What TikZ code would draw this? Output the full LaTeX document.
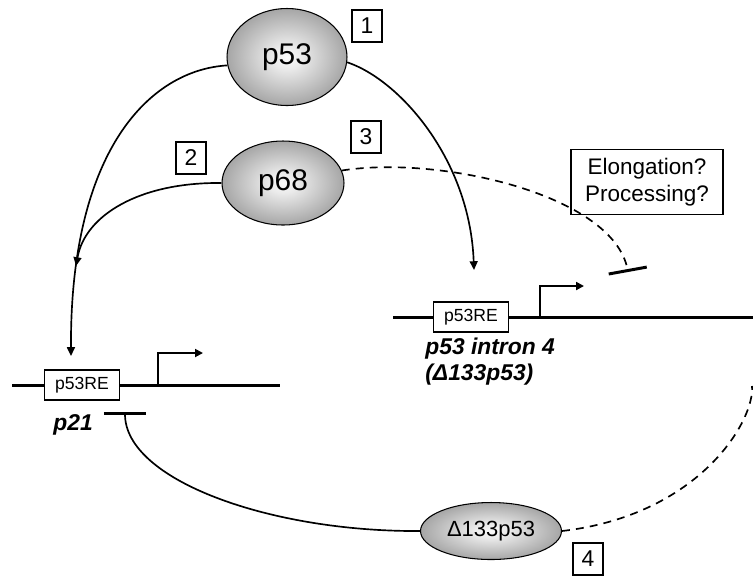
\documentclass[tikz,border=0pt]{standalone}
\usepackage{fontspec}
\setmainfont{Liberation Sans}
\usetikzlibrary{shapes,arrows,positioning,calc,arrows.meta}
\pgfdeclareradialshading{protshade}{\pgfpoint{0bp}{0bp}}{color(0bp)=(black!2); color(6bp)=(black!8); color(30bp)=(black!42); color(50bp)=(black!72)}

\begin{document}
\begin{tikzpicture}[x=0.02cm, y=-0.02cm,
    prot/.style={ellipse, draw, line width=0.6pt, shade, shading=protshade, inner sep=0pt},
    numbox/.style={draw, line width=0.8pt, minimum width=0.6cm, minimum height=0.64cm, inner sep=0pt, font=\fontsize{13}{13}\selectfont},
    rebox/.style={draw, fill=white, line width=0.8pt, minimum width=1.5cm, minimum height=0.6cm, inner sep=0pt, font=\fontsize{10}{10}\selectfont},
    gene/.style={line width=1.7pt},
    tss/.style={line width=1.1pt, -{Triangle[length=4.5pt, width=4.5pt]}},
    act/.style={line width=0.95pt, -{Triangle[length=5pt, width=4.5pt]}},
    inh/.style={line width=0.95pt, -{Bar[width=#1, line width=1.7pt]}},
    dash68/.style={line width=0.95pt, dash pattern=on 4.5pt off 3.5pt},
    genename/.style={font=\fontsize{13}{14.7}\selectfont\bfseries\itshape, align=left, inner sep=0pt}]
    \useasboundingbox (0,0) rectangle (753,576);

    % proteins
    \node [prot, minimum width=2.4cm, minimum height=1.94cm, font=\fontsize{17}{17}\selectfont] (p53) at (287,57) {p53};
    \node [prot, minimum width=2.44cm, minimum height=1.68cm, font=\fontsize{17}{17}\selectfont] (p68) at (283,183) {p68};
    \node [prot, minimum width=2.82cm, minimum height=1.14cm, font=\fontsize{12.5}{12.5}\selectfont] (dn133) at (491,531) {Δ133p53};

    \node [numbox] (n1) at (367,26) {1};
    \node [numbox] (n2) at (191,158) {2};
    \node [numbox] (n3) at (366,137) {3};
    \node [numbox] (n4) at (588,559) {4};

    \node [draw, line width=0.8pt, minimum width=3.04cm, minimum height=1.3cm, align=center, font=\fontsize{12.8}{15}\selectfont] (query) at (647,182) {Elongation?\\Processing?};

    % p21 gene
    \draw [gene] (12,385) -- (280,385);
    \node [rebox] (re21) at (82,385) {p53RE};
    \coordinate (tss21) at (158,385);
    \draw [tss] (tss21) |- ++(45,-32);
    \node [genename, anchor=base west] (p21) at (53,430) {p21};

    % p53 intron 4
    \draw [gene] (393,317) -- (753,317);
    \node [rebox] (reint) at (471,317) {p53RE};
    \coordinate (tssint) at (540,317);
    \draw [tss] (tssint) |- ++(44,-31);
    \node [genename, anchor=north west] (intron) at (425,338) {p53 intron 4\\(Δ133p53)};

    % arrows
    \coordinate (in21) at (71,356);
    \coordinate (join) at (76,266);
    \coordinate (inint) at (474,270);
    \coordinate (stop) at (628,272);
    \coordinate (stop21) at (125,412);
    \coordinate (farend) at (752,386);

    \draw [act] (p53.188) .. controls (150,70) and (70,150) .. (in21);
    \draw [act] (p68.west) .. controls (140,182) and (85,215) .. (join);
    \draw [act] (p53.-5) .. controls (400,80) and (470,160) .. (inint);
    \draw [dash68, inh=22pt] (p68.12) .. controls (440,155) and (614,195) .. (stop);
    \draw [inh=24pt] (dn133.west) .. controls (270,532) and (125,480) .. (stop21);
    \draw [dash68] (dn133.east) .. controls (700,515) and (755,420) .. (farend);
\end{tikzpicture}
\end{document}
